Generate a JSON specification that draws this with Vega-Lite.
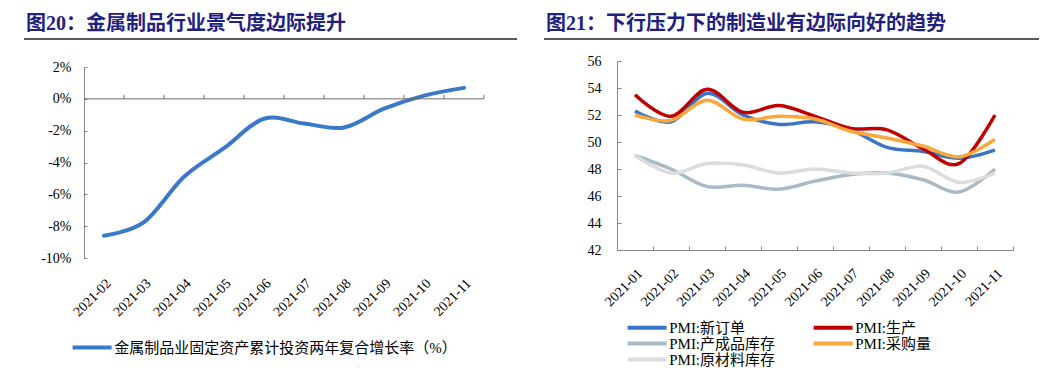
{
  "$schema": "https://vega.github.io/schema/vega-lite/v6.json",
  "background": "white",
  "padding": {"left": 23, "top": 14, "right": 0, "bottom": 0},
  "config": {
    "view": {"stroke": null},
    "axis": {"grid": false, "labelFont": "Liberation Serif", "labelFontSize": 14, "labelColor": "#000", "domainColor": "#868686", "tickColor": "#868686", "title": null, "labelOverlap": false},
    "title": {"font": "Liberation Serif, Noto Sans CJK SC", "fontSize": 20, "fontWeight": "bold", "color": "#1f2180", "anchor": "start", "frame": "group", "baseline": "bottom", "offset": 4},
    "legend": {"labelFont": "Liberation Serif, Noto Sans CJK SC", "labelFontSize": 15, "labelColor": "#000", "symbolType": "M-4,0H4", "symbolSize": 95, "symbolStrokeWidth": 4, "labelOffset": 14.6, "padding": 0, "title": null, "labelLimit": 0, "direction": "horizontal"}
  },
  "resolve": {"scale": {"color": "independent"}, "legend": {"color": "independent"}},
  "hconcat": [
    {
      "spacing": 20,
      "vconcat": [
        {
          "width": 400, "height": 1,
          "title": {"text": "图20：金属制品行业景气度边际提升", "dx": -58},
          "data": {"values": [{}]},
          "mark": {"type": "rule", "color": "#222", "strokeWidth": 1.5},
          "encoding": {
            "x": {"datum": -60, "type": "quantitative", "scale": {"domain": [0, 400], "nice": false, "zero": false}, "axis": null},
            "x2": {"datum": 433},
            "y": {"datum": 0, "type": "quantitative", "scale": {"domain": [0, 1]}, "axis": null}
          }
        },
        {
          "width": 400, "height": 191,
          "data": {"values": [
            {"month": "2021-02", "value": -8.6, "series": "金属制品业固定资产累计投资两年复合增长率（%）"},
            {"month": "2021-03", "value": -7.75, "series": "金属制品业固定资产累计投资两年复合增长率（%）"},
            {"month": "2021-04", "value": -4.9, "series": "金属制品业固定资产累计投资两年复合增长率（%）"},
            {"month": "2021-05", "value": -3.1, "series": "金属制品业固定资产累计投资两年复合增长率（%）"},
            {"month": "2021-06", "value": -1.25, "series": "金属制品业固定资产累计投资两年复合增长率（%）"},
            {"month": "2021-07", "value": -1.55, "series": "金属制品业固定资产累计投资两年复合增长率（%）"},
            {"month": "2021-08", "value": -1.8, "series": "金属制品业固定资产累计投资两年复合增长率（%）"},
            {"month": "2021-09", "value": -0.62, "series": "金属制品业固定资产累计投资两年复合增长率（%）"},
            {"month": "2021-10", "value": 0.2, "series": "金属制品业固定资产累计投资两年复合增长率（%）"},
            {"month": "2021-11", "value": 0.69, "series": "金属制品业固定资产累计投资两年复合增长率（%）"}
          ]},
          "layer": [
            {
              "mark": {"type": "line", "interpolate": "cardinal", "strokeWidth": 4, "strokeCap": "round"},
              "encoding": {
                "x": {"field": "month", "type": "ordinal", "scale": {"paddingInner": 0, "paddingOuter": 0},
                      "axis": {"domain": false, "ticks": false, "labelAngle": -45, "labelPadding": 18, "title": null, "labelOverlap": false}},
                "y": {"field": "value", "type": "quantitative", "scale": {"domain": [-10, 2], "nice": false, "zero": false},
                      "axis": {"values": [-10, -8, -6, -4, -2, 0, 2], "labelExpr": "datum.value + '%'", "tickSize": -3, "labelPadding": 16, "minExtent": 60, "maxExtent": 60, "title": null, "labelOverlap": false}},
                "color": {"field": "series", "type": "nominal", "scale": {"range": ["#3a78c9"]},
                          "legend": {"orient": "none", "legendX": 0.6, "legendY": 302}}
              }
            },
            {
              "mark": {"type": "rule", "color": "#6e6e6e", "strokeWidth": 1},
              "encoding": {
                "x": {"field": "month", "type": "ordinal", "bandPosition": 1, "scale": {"paddingInner": 0, "paddingOuter": 0},
                      "axis": {"domain": false, "ticks": false, "labelAngle": -45, "labelPadding": 18, "title": null, "labelOverlap": false}},
                "y": {"datum": 0, "type": "quantitative", "scale": {"domain": [-10, 2], "nice": false, "zero": false},
                      "axis": {"values": [-10, -8, -6, -4, -2, 0, 2], "labelExpr": "datum.value + '%'", "tickSize": -3, "labelPadding": 16, "minExtent": 60, "maxExtent": 60, "title": null, "labelOverlap": false}},
                "y2": {"datum": 0.25}
              }
            },
            {
              "data": {"values": [{}]},
              "mark": {"type": "rule", "color": "#6e6e6e", "strokeWidth": 1},
              "encoding": {
                "y": {"datum": 0, "type": "quantitative", "scale": {"domain": [-10, 2], "nice": false, "zero": false},
                      "axis": {"values": [-10, -8, -6, -4, -2, 0, 2], "labelExpr": "datum.value + '%'", "tickSize": -3, "labelPadding": 16, "minExtent": 60, "maxExtent": 60, "title": null, "labelOverlap": false}}
              }
            }
          ]
        }
      ]
    },
    {
      "spacing": 14,
      "vconcat": [
        {
          "width": 396, "height": 1,
          "title": {"text": "图21：下行压力下的制造业有边际向好的趋势", "dx": -71},
          "data": {"values": [{}]},
          "mark": {"type": "rule", "color": "#222", "strokeWidth": 1.5},
          "encoding": {
            "x": {"datum": -73, "type": "quantitative", "scale": {"domain": [0, 396], "nice": false, "zero": false}, "axis": null},
            "x2": {"datum": 422},
            "y": {"datum": 0, "type": "quantitative", "scale": {"domain": [0, 1]}, "axis": null}
          }
        },
        {
          "width": 396, "height": 189,
          "data": {"values": [
            {"month": "2021-01", "series": "PMI:新订单", "value": 52.3},
            {"month": "2021-02", "series": "PMI:新订单", "value": 51.5},
            {"month": "2021-03", "series": "PMI:新订单", "value": 53.6},
            {"month": "2021-04", "series": "PMI:新订单", "value": 52.0},
            {"month": "2021-05", "series": "PMI:新订单", "value": 51.3},
            {"month": "2021-06", "series": "PMI:新订单", "value": 51.5},
            {"month": "2021-07", "series": "PMI:新订单", "value": 50.9},
            {"month": "2021-08", "series": "PMI:新订单", "value": 49.6},
            {"month": "2021-09", "series": "PMI:新订单", "value": 49.3},
            {"month": "2021-10", "series": "PMI:新订单", "value": 48.8},
            {"month": "2021-11", "series": "PMI:新订单", "value": 49.4},
            {"month": "2021-01", "series": "PMI:生产", "value": 53.5},
            {"month": "2021-02", "series": "PMI:生产", "value": 51.9},
            {"month": "2021-03", "series": "PMI:生产", "value": 53.9},
            {"month": "2021-04", "series": "PMI:生产", "value": 52.2},
            {"month": "2021-05", "series": "PMI:生产", "value": 52.7},
            {"month": "2021-06", "series": "PMI:生产", "value": 51.9},
            {"month": "2021-07", "series": "PMI:生产", "value": 51.0},
            {"month": "2021-08", "series": "PMI:生产", "value": 50.9},
            {"month": "2021-09", "series": "PMI:生产", "value": 49.5},
            {"month": "2021-10", "series": "PMI:生产", "value": 48.4},
            {"month": "2021-11", "series": "PMI:生产", "value": 52.0},
            {"month": "2021-01", "series": "PMI:产成品库存", "value": 49.0},
            {"month": "2021-02", "series": "PMI:产成品库存", "value": 48.0},
            {"month": "2021-03", "series": "PMI:产成品库存", "value": 46.7},
            {"month": "2021-04", "series": "PMI:产成品库存", "value": 46.8},
            {"month": "2021-05", "series": "PMI:产成品库存", "value": 46.5},
            {"month": "2021-06", "series": "PMI:产成品库存", "value": 47.1},
            {"month": "2021-07", "series": "PMI:产成品库存", "value": 47.6},
            {"month": "2021-08", "series": "PMI:产成品库存", "value": 47.7},
            {"month": "2021-09", "series": "PMI:产成品库存", "value": 47.2},
            {"month": "2021-10", "series": "PMI:产成品库存", "value": 46.3},
            {"month": "2021-11", "series": "PMI:产成品库存", "value": 48.0},
            {"month": "2021-01", "series": "PMI:采购量", "value": 52.0},
            {"month": "2021-02", "series": "PMI:采购量", "value": 51.6},
            {"month": "2021-03", "series": "PMI:采购量", "value": 53.1},
            {"month": "2021-04", "series": "PMI:采购量", "value": 51.7},
            {"month": "2021-05", "series": "PMI:采购量", "value": 51.9},
            {"month": "2021-06", "series": "PMI:采购量", "value": 51.7},
            {"month": "2021-07", "series": "PMI:采购量", "value": 50.8},
            {"month": "2021-08", "series": "PMI:采购量", "value": 50.3},
            {"month": "2021-09", "series": "PMI:采购量", "value": 49.7},
            {"month": "2021-10", "series": "PMI:采购量", "value": 48.9},
            {"month": "2021-11", "series": "PMI:采购量", "value": 50.2},
            {"month": "2021-01", "series": "PMI:原材料库存", "value": 49.0},
            {"month": "2021-02", "series": "PMI:原材料库存", "value": 47.7},
            {"month": "2021-03", "series": "PMI:原材料库存", "value": 48.4},
            {"month": "2021-04", "series": "PMI:原材料库存", "value": 48.3},
            {"month": "2021-05", "series": "PMI:原材料库存", "value": 47.7},
            {"month": "2021-06", "series": "PMI:原材料库存", "value": 48.0},
            {"month": "2021-07", "series": "PMI:原材料库存", "value": 47.7},
            {"month": "2021-08", "series": "PMI:原材料库存", "value": 47.7},
            {"month": "2021-09", "series": "PMI:原材料库存", "value": 48.2},
            {"month": "2021-10", "series": "PMI:原材料库存", "value": 47.0},
            {"month": "2021-11", "series": "PMI:原材料库存", "value": 47.7}
          ]},
          "mark": {"type": "line", "interpolate": "cardinal", "strokeWidth": 3.5},
          "encoding": {
            "x": {"field": "month", "type": "ordinal", "scale": {"paddingInner": 0, "paddingOuter": 0},
                  "axis": {"tickBand": "extent", "tickSize": -4, "labelAngle": -45, "labelPadding": 20, "title": null, "labelOverlap": false}},
            "y": {"field": "value", "type": "quantitative", "scale": {"domain": [42, 56], "nice": false, "zero": false},
                  "axis": {"values": [42, 44, 46, 48, 50, 52, 54, 56], "tickSize": -4, "labelPadding": 20, "minExtent": 73, "maxExtent": 73, "title": null, "labelOverlap": false}},
            "color": {"field": "series", "type": "nominal",
                      "scale": {"domain": ["PMI:新订单", "PMI:生产", "PMI:产成品库存", "PMI:采购量", "PMI:原材料库存"],
                                "range": ["#3a74c4", "#c00000", "#a7bac6", "#f8a83c", "#dcdcdc"]},
                      "legend": {"orient": "none", "legendX": 22.6, "legendY": 282, "columns": 2, "columnPadding": 30, "rowPadding": -2.5}}
          }
        }
      ]
    }
  ],
  "spacing": 25
}
